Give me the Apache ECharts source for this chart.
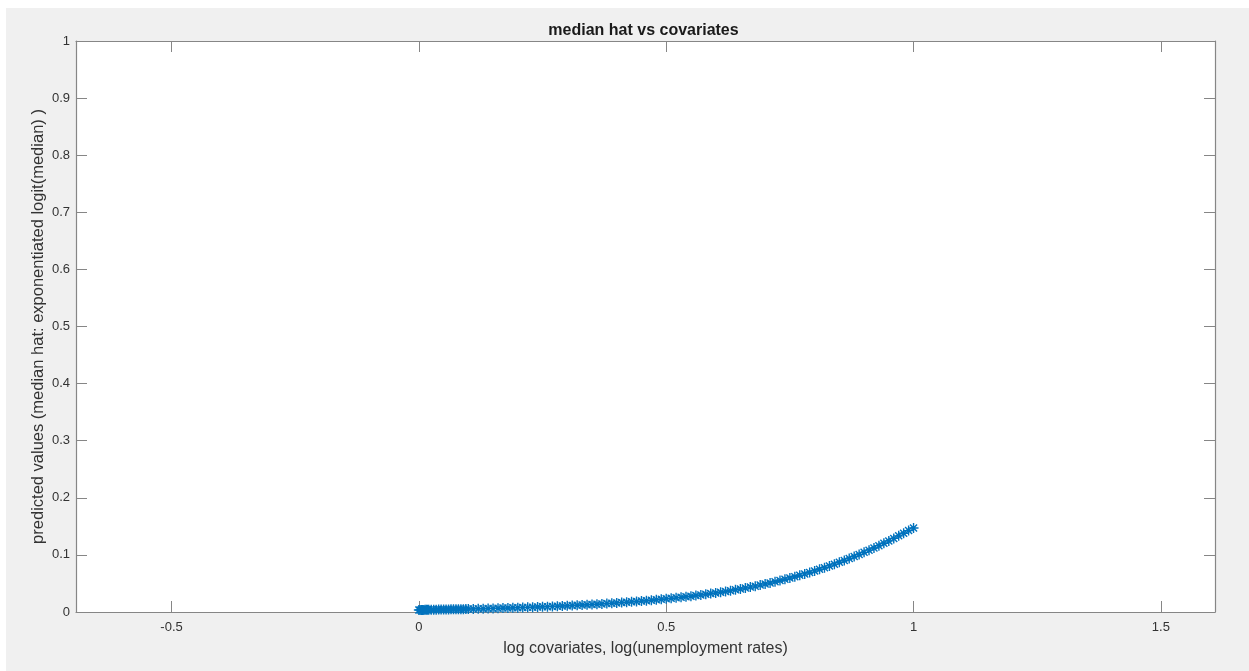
<!DOCTYPE html>
<html>
<head>
<meta charset="utf-8">
<script src="https://cdn.jsdelivr.net/npm/echarts@6/dist/echarts.min.js"></script>
<style>
html,body{margin:0;padding:0;background:#fff;}
#chart{position:absolute;left:6px;top:8px;width:1243px;height:663px;}
</style>
</head>
<body>
<div id="chart"></div>
<script>
// ---- data ----
const xValues = [
  0, 0.0025, 0.005, 0.0075, 0.01, 0.0125, 0.015, 0.0175, 0.02, 0.025, 0.03, 0.035, 0.04, 0.045, 0.05,
  0.055, 0.06, 0.065, 0.07, 0.075, 0.08, 0.085, 0.09, 0.095, 0.10,
  0.11, 0.12, 0.13, 0.14, 0.15, 0.16, 0.17, 0.18, 0.19, 0.20,
  0.21, 0.22, 0.23, 0.24, 0.25, 0.26, 0.27, 0.28, 0.29, 0.30, 0.31, 0.32, 0.33, 0.34, 0.35,
  0.36, 0.37, 0.38, 0.39, 0.40, 0.41, 0.42, 0.43, 0.44, 0.45, 0.46, 0.47, 0.48, 0.49, 0.50,
  0.51, 0.52, 0.53, 0.54, 0.55, 0.56, 0.57, 0.58, 0.59, 0.60, 0.61, 0.62, 0.63, 0.64, 0.65,
  0.66, 0.67, 0.68, 0.69, 0.70, 0.71, 0.72, 0.73, 0.74, 0.75, 0.76, 0.77, 0.78, 0.79, 0.80,
  0.81, 0.82, 0.83, 0.84, 0.85, 0.86, 0.87, 0.88, 0.89, 0.90, 0.91, 0.92, 0.93, 0.94, 0.95,
  0.96, 0.97, 0.98, 0.99, 1.00
];
const yValues = [
  0.0036, 0.0036, 0.0037, 0.0037, 0.0037, 0.0038, 0.0038, 0.0039, 0.0039, 0.0040, 0.0040, 0.0041, 0.0042, 0.0042, 0.0043,
  0.0044, 0.0045, 0.0046, 0.0047, 0.0048, 0.0048, 0.0049, 0.0050, 0.0051, 0.0052,
  0.0054, 0.0056, 0.0058, 0.0061, 0.0063, 0.0065, 0.0068, 0.0070, 0.0073, 0.0076,
  0.0078, 0.0081, 0.0085, 0.0088, 0.0091, 0.0094, 0.0098, 0.0102, 0.0106, 0.0110, 0.0114, 0.0118, 0.0122, 0.0127, 0.0132,
  0.0137, 0.0142, 0.0147, 0.0153, 0.0159, 0.0165, 0.0171, 0.0178, 0.0184, 0.0191, 0.0198, 0.0206, 0.0214, 0.0222, 0.0230,
  0.0239, 0.0248, 0.0257, 0.0267, 0.0277, 0.0288, 0.0299, 0.0310, 0.0322, 0.0334, 0.0347, 0.0360, 0.0374, 0.0389, 0.0404,
  0.0420, 0.0436, 0.0453, 0.0471, 0.0490, 0.0509, 0.0529, 0.0550, 0.0572, 0.0595, 0.0618, 0.0642, 0.0667, 0.0693, 0.0720,
  0.0748, 0.0777, 0.0807, 0.0838, 0.0870, 0.0903, 0.0937, 0.0972, 0.1008, 0.1045, 0.1083, 0.1122, 0.1162, 0.1203, 0.1245,
  0.1289, 0.1334, 0.1380, 0.1426, 0.1472
];
const xTicks = [-0.5, 0, 0.5, 1, 1.5];
const yTicks = [0, 0.1, 0.2, 0.3, 0.4, 0.5, 0.6, 0.7, 0.8, 0.9, 1];
const xMin = -0.6931, xMax = 1.6094; // log(0.5) .. log(5)
const titleText = 'median hat vs covariates';
const xName = 'log covariates, log(unemployment rates)';
const yName = 'predicted values (median hat: exponentiated logit(median) )';

const points = xValues.map((x, i) => [x, yValues[i]]);
const fontFamily = '"Liberation Sans", Arial, Helvetica, sans-serif';
const axisColor = '#868686';
const labelColor = '#333333';

const chart = echarts.init(document.getElementById('chart'), null, {renderer: 'canvas'});
chart.setOption({
  animation: false,
  backgroundColor: '#f0f0f0',
  title: {
    text: titleText,
    left: 632.5, top: 10, textAlign: 'center',
    textStyle: {fontFamily, fontSize: 16, fontWeight: 'bold', color: '#1a1a1a'}
  },
  grid: {
    left: 70, top: 33, right: 34, bottom: 59,
    show: true, backgroundColor: '#ffffff', borderWidth: 0
  },
  xAxis: [{
    type: 'value', min: xMin, max: xMax, position: 'bottom',
    name: xName, nameLocation: 'middle', nameGap: 29,
    nameTextStyle: {fontFamily, fontSize: 16, color: labelColor},
    axisLine: {show: true, onZero: false, lineStyle: {color: axisColor, width: 1.2}},
    axisTick: {show: true, inside: true, length: 11, customValues: xTicks, lineStyle: {color: axisColor}},
    axisLabel: {show: true, customValues: xTicks, margin: 9, fontFamily, fontSize: 13, color: labelColor,
      formatter: v => String(v)},
    splitLine: {show: false}
  }, {
    type: 'value', min: xMin, max: xMax, position: 'top',
    axisLine: {show: true, onZero: false, lineStyle: {color: axisColor, width: 1.2}},
    axisTick: {show: true, inside: true, length: 11, customValues: xTicks, lineStyle: {color: axisColor}},
    axisLabel: {show: false},
    splitLine: {show: false}
  }],
  yAxis: [{
    type: 'value', min: 0, max: 1, interval: 0.1, position: 'left',
    name: yName, nameLocation: 'middle', nameGap: 29, nameMoveOverlap: false,
    nameTextStyle: {fontFamily, fontSize: 16.5, color: labelColor},
    axisLine: {show: true, onZero: false, lineStyle: {color: axisColor, width: 1.2}},
    axisTick: {show: true, inside: true, length: 11, lineStyle: {color: axisColor}},
    axisLabel: {show: true, margin: 6, fontFamily, fontSize: 13, color: labelColor,
      formatter: v => String(Math.round(v * 10) / 10)},
    splitLine: {show: false}
  }, {
    type: 'value', min: 0, max: 1, interval: 0.1, position: 'right',
    axisLine: {show: true, onZero: false, lineStyle: {color: axisColor, width: 1.2}},
    axisTick: {show: true, inside: true, length: 11, lineStyle: {color: axisColor}},
    axisLabel: {show: false},
    splitLine: {show: false}
  }],
  series: [{
    type: 'scatter',
    xAxisIndex: 0, yAxisIndex: 0,
    data: points,
    symbol: 'path://M0,-5L0,5M-5,0L5,0M-3.5,-3.5L3.5,3.5M-3.5,3.5L3.5,-3.5',
    symbolSize: 10,
    itemStyle: {color: 'rgba(0,0,0,0)', borderColor: '#0072BD', borderWidth: 1.4, opacity: 1},
    emphasis: {disabled: true}
  }]
});
</script>
</body>
</html>
